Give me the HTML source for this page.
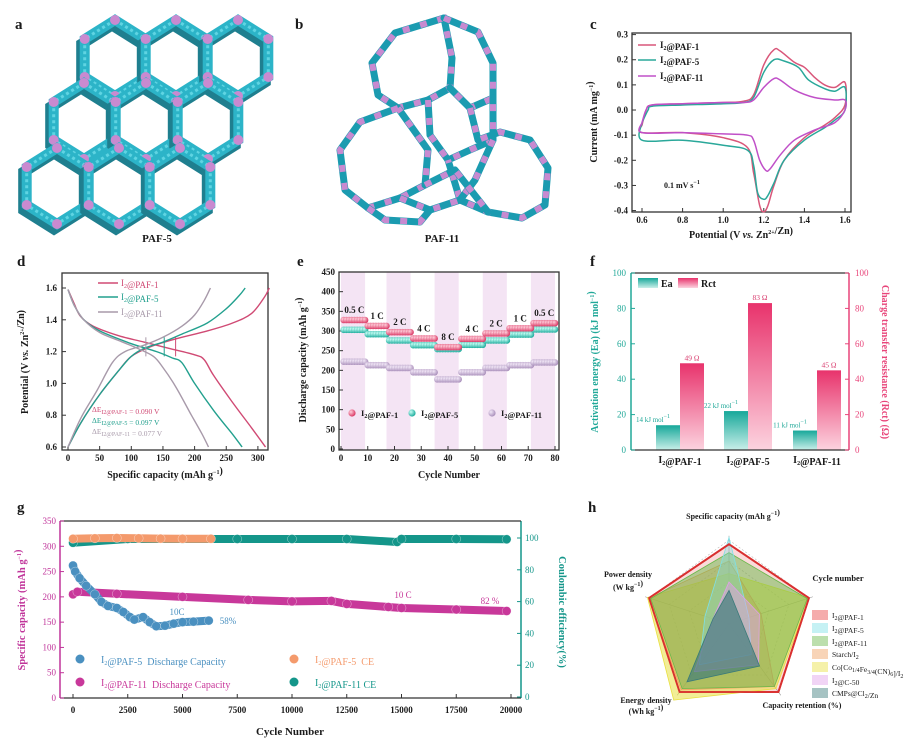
<!DOCTYPE html>
<html><head><meta charset="utf-8">
<style>
html,body{margin:0;padding:0;background:#fff;}
svg{display:block;font-family:"Liberation Serif",serif;}
</style></head>
<body>
<svg id="fig" width="915" height="744" viewBox="0 0 915 744" xmlns="http://www.w3.org/2000/svg">
<defs>
<linearGradient id="gEa" x1="0" y1="0" x2="0" y2="1"><stop offset="0" stop-color="#17a89a"/><stop offset="1" stop-color="#c9efe9"/></linearGradient>
<linearGradient id="gRct" x1="0" y1="0" x2="0" y2="1"><stop offset="0" stop-color="#e8336c"/><stop offset="1" stop-color="#fcd3df"/></linearGradient>
<radialGradient id="m1" cx="0.35" cy="0.35" r="0.7"><stop offset="0" stop-color="#ffd0dc"/><stop offset="1" stop-color="#d8305e"/></radialGradient>
<radialGradient id="m5" cx="0.35" cy="0.35" r="0.7"><stop offset="0" stop-color="#c9fff6"/><stop offset="1" stop-color="#14a898"/></radialGradient>
<radialGradient id="m11" cx="0.35" cy="0.35" r="0.7"><stop offset="0" stop-color="#f2e8f7"/><stop offset="1" stop-color="#a68bb8"/></radialGradient>
</defs>
</svg>
<script>
// ---------------- DATA ----------------
const cv1V=[0.6,0.62,0.65,0.8,1.0,1.1,1.15,1.2,1.25,1.28,1.35,1.4,1.45,1.5,1.55,1.6,1.6,1.55,1.5,1.4,1.3,1.25,1.22,1.2,1.18,1.15,1.12,1.0,0.8,0.6,0.6];
const cv1I=[-0.06,0.0,0.02,0.025,0.03,0.035,0.06,0.18,0.24,0.235,0.19,0.17,0.13,0.1,0.09,0.11,0.02,-0.03,-0.06,-0.11,-0.2,-0.3,-0.38,-0.405,-0.38,-0.25,-0.15,-0.11,-0.09,-0.09,-0.06];
const cv5V=[0.6,0.63,0.65,0.8,1.0,1.1,1.15,1.2,1.25,1.3,1.37,1.42,1.5,1.55,1.6,1.6,1.55,1.5,1.4,1.3,1.25,1.22,1.2,1.17,1.15,1.12,1.0,0.8,0.6,0.6];
const cv5I=[-0.05,0.0,0.015,0.02,0.025,0.03,0.05,0.15,0.2,0.195,0.17,0.12,0.085,0.075,0.09,0.0,-0.04,-0.07,-0.12,-0.2,-0.29,-0.34,-0.355,-0.33,-0.22,-0.16,-0.14,-0.12,-0.12,-0.05];
const cv11V=[0.6,0.62,0.65,0.8,1.0,1.1,1.15,1.2,1.25,1.28,1.35,1.45,1.55,1.6,1.6,1.55,1.45,1.35,1.28,1.23,1.21,1.18,1.15,1.12,1.0,0.8,0.6,0.6];
const cv11I=[-0.05,0.0,0.02,0.025,0.03,0.03,0.04,0.09,0.125,0.12,0.08,0.05,0.04,0.04,0.0,-0.05,-0.08,-0.12,-0.18,-0.235,-0.24,-0.2,-0.12,-0.1,-0.095,-0.09,-0.09,-0.05];
const cvXTicks=[0.6,0.8,1.0,1.2,1.4,1.6];
const cvYTicks=[0.3,0.2,0.1,0.0,-0.1,-0.2,-0.3,-0.4];
const d1DisC=[0,10,20,40,80,120,160,200,215,230,260,290,312];
const d1DisV=[1.59,1.5,1.42,1.36,1.3,1.26,1.22,1.18,1.15,1.05,0.88,0.72,0.6];
const d1ChC=[0,20,50,80,100,130,170,220,260,290,310,318];
const d1ChV=[0.6,0.75,0.93,1.08,1.17,1.23,1.28,1.33,1.38,1.44,1.54,1.6];
const d5DisC=[0,10,25,50,100,140,165,180,200,230,260,275];
const d5DisV=[1.59,1.49,1.4,1.33,1.25,1.2,1.16,1.13,1.0,0.83,0.68,0.6];
const d5ChC=[0,20,50,80,100,120,150,180,220,250,270,280];
const d5ChV=[0.6,0.75,0.93,1.08,1.17,1.22,1.26,1.31,1.38,1.47,1.55,1.6];
const d11DisC=[0,10,25,50,80,110,135,150,170,195,212,222];
const d11DisV=[1.59,1.49,1.4,1.32,1.27,1.22,1.17,1.1,0.98,0.8,0.68,0.6];
const d11ChC=[0,20,45,70,90,120,150,180,200,215,225];
const d11ChV=[0.6,0.78,0.95,1.13,1.2,1.24,1.29,1.36,1.43,1.52,1.6];
const dXTicks=[0,50,100,150,200,250,300];
const dYTicks=[0.6,0.8,1.0,1.2,1.4,1.6];
const eSegStart=[1,10,18,27,36,45,54,63,72];
const eSegEnd=[9,17,26,35,44,53,62,71,80];
const eRates=["0.5 C","1 C","2 C","4 C","8 C","4 C","2 C","1 C","0.5 C"];
const ePAF1=[328,313,297,281,259,280,294,307,320];
const ePAF5=[303,292,276,264,254,265,276,291,304];
const ePAF11=[222,213,206,195,177,195,206,213,220];
const eXTicks=[0,10,20,30,40,50,60,70,80];
const eYTicks=[0,50,100,150,200,250,300,350,400,450];
const fCats=["PAF-1","PAF-5","PAF-11"];
const fEa=[14,22,11];
const fRct=[49,83,45];
const fTicks=[0,20,40,60,80,100];
const g5Cyc=[0,100,300,600,1000,1300,1600,2000,2300,2600,2800,3200,3500,3800,4200,4600,5000,5500,6200];
const g5Cap=[262,250,237,222,205,190,182,178,170,160,155,160,150,142,143,147,150,151,153];
const g11Cyc=[0,200,2000,5000,8000,10000,11800,12500,14400,15000,17500,19800];
const g11Cap=[205,210,206,200,194,191,192,186,180,178,175,172];
const g5CECyc=[0,1000,2000,3000,4000,5000,6300];
const g5CE=[99.5,99.8,100,99.8,99.6,99.5,99.5];
const g11CECyc=[0,2500,5000,7500,10000,12500,14800,15000,17500,19800];
const g11CE=[97,99.4,99.4,99.4,99.4,99.4,97.5,99.4,99.4,99.2];
const gXTicks=[0,2500,5000,7500,10000,12500,15000,17500,20000];
const gYTicks=[0,50,100,150,200,250,300,350];
const gRTicks=[0,20,40,60,80,100];
const hAxes=["Specific capacity","Cycle number","Capacity retention","Energy density","Power density"];
const hNames=["I2@PAF-1","I2@PAF-5","I2@PAF-11","Starch/I2","Co[Co1/4Fe3/4(CN)6]/I2","I2@C-50","CMPs@Cl2/Zn"];
const hPAF1=[0.95,1.0,1.0,1.0,1.0];
const hPAF5=[1.03,0.25,0.45,0.6,0.3];
const hPAF11=[0.85,0.98,0.92,0.95,0.98];
const hStarch=[0.75,0.4,0.92,0.97,1.0];
const hCo=[0.6,1.0,0.95,1.12,1.02];
const hC50=[0.5,0.38,0.6,0.7,0.2];
const hCMP=[0.4,0.15,0.62,0.85,0.2];
const hColors=["#e84848","#7fe0e6","#6ab84a","#f0a060","#e8e040","#e0a0e8","#3a7a7a"];
const hOpacity=[0.2,0.35,0.5,0.4,0.55,0.5,0.65];

// ---------------- HELPERS ----------------
const NS='http://www.w3.org/2000/svg';
const svg=document.getElementById('fig');
function mk(tag,attrs,parent,name){
  const e=document.createElementNS(NS,tag);
  for(const k in attrs) e.setAttribute(k,attrs[k]);
  
  
  (parent||svg).appendChild(e);
  return e;
}
function grp(name){return mk('g',{},svg,name);}
function txt(x,y,html,o,parent,name){
  o=o||{};
  const a={x:x,y:y,'font-size':o.size||9,'text-anchor':o.anchor||'middle',fill:o.fill||'#1a1a1a','font-weight':o.weight||'bold'};
  if(o.rot) a.transform='rotate('+o.rot+' '+x+' '+y+')';
  const t=mk('text',a,parent,name);
  t.innerHTML=html;
  return t;
}
const sub=s=>'<tspan font-size="6" dy="2">'+s+'</tspan><tspan dy="-2"></tspan>';
const sup=s=>'<tspan font-size="6" dy="-4">'+s+'</tspan><tspan dy="4"></tspan>';
function smooth(p){
  let d='M'+p[0][0].toFixed(1)+','+p[0][1].toFixed(1);
  for(let i=0;i<p.length-1;i++){
    const p0=p[i-1]||p[i],p1=p[i],p2=p[i+1],p3=p[i+2]||p2;
    const c1=[p1[0]+(p2[0]-p0[0])/6,p1[1]+(p2[1]-p0[1])/6];
    const c2=[p2[0]-(p3[0]-p1[0])/6,p2[1]-(p3[1]-p1[1])/6];
    d+=' C'+c1[0].toFixed(1)+','+c1[1].toFixed(1)+' '+c2[0].toFixed(1)+','+c2[1].toFixed(1)+' '+p2[0].toFixed(1)+','+p2[1].toFixed(1);
  }
  return d;
}
function box(x1,y1,x2,y2,g,color,name){mk('rect',{x:x1,y:y1,width:x2-x1,height:y2-y1,fill:'none',stroke:color||'#333','stroke-width':1.3},g,name);}

// ---------------- PANEL LABELS ----------------
const L=grp('panel-letters');
[['a',15,29],['b',295,29],['c',590,29],['d',17,266],['e',297,266],['f',590,266],['g',17,512],['h',588,512]].forEach(p=>{
  txt(p[1],p[2],p[0],{size:15,anchor:'start'},L,'panel-letter-'+p[0]);
});

// ---------------- PANEL A ----------------
const A=grp('panel-a-paf5-structure');
const hexCenters=[[115,58],[176,58],[238,58],[84,121],[146,121],[208,121],[57,186],[119,186],[180,186]];
hexCenters.forEach((c,i)=>{
  const pts=[];
  for(let k=0;k<6;k++){const an=Math.PI/180*(60*k-90);pts.push((c[0]+35*Math.cos(an)).toFixed(1)+','+(c[1]+38*Math.sin(an)).toFixed(1));}
  mk('polygon',{points:pts.join(' '),fill:'none',stroke:'#1f7f8f','stroke-width':11,transform:'translate(-3,5)'},A,'hex-shadow');
  mk('polygon',{points:pts.join(' '),fill:'none',stroke:'#2cb4c8','stroke-width':10},A,'hex-ring');
  mk('polygon',{points:pts.join(' '),fill:'none',stroke:'#5fd4e2','stroke-width':3,'stroke-dasharray':'3 3'},A,'hex-ring-detail');
  pts.forEach(p=>{const q=p.split(',');mk('circle',{cx:q[0],cy:q[1],r:5,fill:'#c98ad0'},A,'hex-node');});
});
txt(157,242,'PAF-5',{size:11},A,'paf5-caption');

// ---------------- PANEL B ----------------
const B=grp('panel-b-paf11-structure');
const bPaths=[
 'M444,18 L395,33 L372,63 L378,95 L398,108 L428,100 L450,88 L452,58 Z',
 'M444,18 L478,32 L493,63 L493,98 L470,108 L450,88',
 'M398,108 L360,122 L340,150 L345,190 L368,208 L400,198 L425,185 L428,150 L398,108',
 'M428,100 L430,135 L448,160 L470,150 L493,140 L493,98',
 'M470,108 L478,140 L500,132 L530,140 L548,168 L545,205 L522,218 L488,212 L460,200 L448,160',
 'M400,198 L430,210 L460,200 L475,180 L493,140',
 'M368,208 L385,220 L420,222 L430,210',
 'M425,185 L455,170 L488,212'
];
bPaths.forEach(d=>{
  mk('path',{d:d,fill:'none',stroke:'#1b9bb0','stroke-width':7,'stroke-linejoin':'round','stroke-linecap':'round'},B,'framework-strut');
  mk('path',{d:d,fill:'none',stroke:'#c88ad0','stroke-width':6,'stroke-dasharray':'7 11'},B,'framework-linker');
});
txt(442,242,'PAF-11',{size:11},B,'paf11-caption');

// ---------------- PANEL C ----------------
const C=grp('panel-c-cv-chart');
const cx=v=>642+(v-0.6)*203, cy=i=>34.6+(0.3-i)*251.4;
box(632,33,851,212,C,'#333','cv-plot-frame');
cvXTicks.forEach(t=>{mk('line',{x1:cx(t),y1:212,x2:cx(t),y2:208,stroke:'#333'},C,'x-tick');txt(cx(t),223,t.toFixed(1),{size:9},C,'x-tick-label');});
cvYTicks.forEach(t=>{mk('line',{x1:632,y1:cy(t),x2:636,y2:cy(t),stroke:'#333'},C,'y-tick');txt(628,cy(t)+3,t.toFixed(1),{size:9,anchor:'end'},C,'y-tick-label');});
txt(741,238,'Potential (V <tspan font-style="italic">vs.</tspan> Zn'+sup('2+')+'/Zn)',{size:10},C,'x-axis-title');
txt(597,122,'Current (mA mg'+sup('−1')+')',{size:10,rot:-90},C,'y-axis-title');
[[cv1V,cv1I,'#d9577a','cv-paf1'],[cv5V,cv5I,'#2aa89a','cv-paf5'],[cv11V,cv11I,'#c050c8','cv-paf11']].forEach(s=>{
  const p=s[0].map((v,i)=>[cx(v),cy(s[1][i])]);
  mk('path',{d:smooth(p),fill:'none',stroke:s[2],'stroke-width':1.5},C,s[3]+'-curve');
});
[['1','#d9577a',45],['5','#2aa89a',60],['11','#c050c8',76]].forEach(l=>{
  mk('line',{x1:638,y1:l[2],x2:656,y2:l[2],stroke:l[1],'stroke-width':1.5},C,'legend-line');
  txt(660,l[2]+3,'I'+sub('2')+'@PAF-'+l[0],{size:9,anchor:'start'},C,'legend-entry-paf'+l[0]);
});
txt(664,188,'0.1 mV s'+sup('−1'),{size:8,anchor:'start'},C,'scan-rate-note');

// ---------------- PANEL D ----------------
const D=grp('panel-d-gcd-chart');
const dx=c=>68+c*0.633, dy=v=>288+(1.6-v)*159;
box(62,273,268,450,D,'#333','gcd-plot-frame');
dXTicks.forEach(t=>{mk('line',{x1:dx(t),y1:450,x2:dx(t),y2:446,stroke:'#333'},D,'x-tick');txt(dx(t),461,t,{size:9},D,'x-tick-label');});
dYTicks.forEach(t=>{mk('line',{x1:62,y1:dy(t),x2:66,y2:dy(t),stroke:'#333'},D,'y-tick');txt(57,dy(t)+3,t.toFixed(1),{size:9,anchor:'end'},D,'y-tick-label');});
txt(165,478,'Specific capacity (mAh g'+sup('−1')+')',{size:10},D,'x-axis-title');
txt(28,362,'Potential (V <tspan font-style="italic">vs.</tspan> Zn'+sup('2+')+'/Zn)',{size:10,rot:-90},D,'y-axis-title');
[[d1DisC,d1DisV,d1ChC,d1ChV,'#d04a74','paf1'],[d5DisC,d5DisV,d5ChC,d5ChV,'#22a08e','paf5'],[d11DisC,d11DisV,d11ChC,d11ChV,'#a89aaa','paf11']].forEach(s=>{
  mk('path',{d:smooth(s[0].map((c,i)=>[dx(c),dy(s[1][i])])),fill:'none',stroke:s[4],'stroke-width':1.4},D,'discharge-curve-'+s[5]);
  mk('path',{d:smooth(s[2].map((c,i)=>[dx(c),dy(s[3][i])])),fill:'none',stroke:s[4],'stroke-width':1.4},D,'charge-curve-'+s[5]);
});
[[123,'#a89aaa'],[152,'#22a08e'],[170,'#d04a74']].forEach(a=>{
  mk('line',{x1:dx(a[0]),y1:dy(1.17),x2:dx(a[0]),y2:dy(1.29),stroke:a[1],'stroke-width':1},D,'overpotential-marker');
});
[['1','#d04a74',283],['5','#22a08e',297],['11','#a89aaa',312]].forEach(l=>{
  mk('line',{x1:98,y1:l[2],x2:118,y2:l[2],stroke:l[1],'stroke-width':1.5},D,'legend-line');
  txt(121,l[2]+3,'I'+sub('2')+'@PAF-'+l[0],{size:9,anchor:'start',fill:l[1],weight:'normal'},D,'legend-entry-paf'+l[0]);
});
[['1','0.090','#d04a74',412],['5','0.097','#22a08e',423],['11','0.077','#a89aaa',434]].forEach(l=>{
  txt(92,l[3],'ΔE'+sub('I2@PAF-'+l[0])+' = '+l[1]+' V',{size:7.5,anchor:'start',fill:l[2],weight:'normal'},D,'delta-e-paf'+l[0]);
});

// ---------------- PANEL E ----------------
const E=grp('panel-e-rate-chart');
const ex=n=>341+n*2.675, ey=q=>449-q*0.3933;
eSegStart.forEach((s,i)=>{ if(i%2===0) mk('rect',{x:ex(s-1),y:272,width:ex(eSegEnd[i])-ex(s-1),height:178,fill:'#f4e4f4'},E,'rate-band'); });
box(339,272,559,450,E,'#333','rate-plot-frame');
eXTicks.forEach(t=>{mk('line',{x1:ex(t),y1:450,x2:ex(t),y2:446,stroke:'#333'},E,'x-tick');txt(ex(t),461,t,{size:9},E,'x-tick-label');});
eYTicks.forEach(t=>{mk('line',{x1:339,y1:ey(t),x2:343,y2:ey(t),stroke:'#333'},E,'y-tick');txt(335,ey(t)+3,t,{size:9,anchor:'end'},E,'y-tick-label');});
txt(449,478,'Cycle Number',{size:10},E,'x-axis-title');
txt(306,360,'Discharge capacity (mAh g'+sup('−1')+')',{size:10,rot:-90},E,'y-axis-title');
[[ePAF11,'url(#m11)','paf11'],[ePAF5,'url(#m5)','paf5'],[ePAF1,'url(#m1)','paf1']].forEach(s=>{
  eSegStart.forEach((st,i)=>{
    for(let n=st;n<=eSegEnd[i];n++){
      mk('circle',{cx:ex(n),cy:ey(s[0][i]),r:3.3,fill:s[1]},E,'point-'+s[2]);
    }
  });
});
eSegStart.forEach((st,i)=>{
  txt(ex((st+eSegEnd[i])/2),ey(ePAF1[i])-7,eRates[i],{size:9},E,'rate-label');
});
[['1','url(#m1)',352],['5','url(#m5)',412],['11','url(#m11)',492]].forEach(l=>{
  mk('circle',{cx:l[2],cy:413,r:3.6,fill:l[1]},E,'legend-marker');
  txt(l[2]+9,416,'I'+sub('2')+'@PAF-'+l[0],{size:8.5,anchor:'start'},E,'legend-entry-paf'+l[0]);
});

// ---------------- PANEL F ----------------
const F=grp('panel-f-bar-chart');
const fx=[680,748,817], fy=v=>450-v*1.77;
fCats.forEach((c,i)=>{
  mk('rect',{x:fx[i]-24,y:fy(fEa[i]),width:24,height:450-fy(fEa[i]),fill:'url(#gEa)'},F,'bar-ea-'+c.toLowerCase());
  mk('rect',{x:fx[i],y:fy(fRct[i]),width:24,height:450-fy(fRct[i]),fill:'url(#gRct)'},F,'bar-rct-'+c.toLowerCase());
  txt(fx[i]-27,fy(fEa[i])-3,fEa[i]+' kJ mol'+sup('−1'),{size:7,fill:'#20a898',weight:'normal'},F,'ea-value-label');
  txt(fx[i]+12,fy(fRct[i])-3,fRct[i]+' Ω',{size:7.5,fill:'#d83a6c',weight:'normal'},F,'rct-value-label');
  txt(fx[i],463,'I'+sub('2')+'@'+c,{size:10},F,'category-label');
});
mk('line',{x1:631,y1:273,x2:631,y2:450,stroke:'#20a898','stroke-width':1.5},F,'left-axis');
mk('line',{x1:849,y1:273,x2:849,y2:450,stroke:'#e8457a','stroke-width':1.5},F,'right-axis');
mk('line',{x1:631,y1:273,x2:849,y2:273,stroke:'#333','stroke-width':1.3},F,'top-frame');
mk('line',{x1:631,y1:450,x2:849,y2:450,stroke:'#333','stroke-width':1.3},F,'bottom-frame');
fTicks.forEach(t=>{
  mk('line',{x1:631,y1:fy(t),x2:635,y2:fy(t),stroke:'#20a898'},F,'left-tick');
  txt(626,fy(t)+3,t,{size:9,anchor:'end',fill:'#20a898',weight:'normal'},F,'left-tick-label');
  mk('line',{x1:845,y1:fy(t),x2:849,y2:fy(t),stroke:'#e8457a'},F,'right-tick');
  txt(855,fy(t)+3,t,{size:9,anchor:'start',fill:'#e8457a',weight:'normal'},F,'right-tick-label');
});
txt(598,362,'Activation energy (Ea) (kJ mol'+sup('−1')+')',{size:10,rot:-90,fill:'#20a898'},F,'left-axis-title');
txt(882,362,'Charge transfer resistance (Rct) (Ω)',{size:10,rot:90,fill:'#e8457a'},F,'right-axis-title');
mk('rect',{x:638,y:278,width:20,height:10,fill:'url(#gEa)'},F,'legend-swatch-ea');
txt(661,287,'Ea',{size:10,anchor:'start'},F,'legend-entry-ea');
mk('rect',{x:678,y:278,width:20,height:10,fill:'url(#gRct)'},F,'legend-swatch-rct');
txt(701,287,'Rct',{size:10,anchor:'start'},F,'legend-entry-rct');

// ---------------- PANEL G ----------------
const G=grp('panel-g-cycling-chart');
const gx=c=>73+c*0.0219, gy=q=>698-q*0.5057, gr=p=>697-p*1.59;
mk('line',{x1:60,y1:521,x2:60,y2:698,stroke:'#c0349a','stroke-width':1.5},G,'left-axis');
mk('line',{x1:521,y1:521,x2:521,y2:698,stroke:'#14968a','stroke-width':1.5},G,'right-axis');
mk('line',{x1:60,y1:521,x2:521,y2:521,stroke:'#333','stroke-width':1.3},G,'top-frame');
mk('line',{x1:60,y1:698,x2:521,y2:698,stroke:'#333','stroke-width':1.3},G,'bottom-frame');
gXTicks.forEach(t=>{mk('line',{x1:gx(t),y1:698,x2:gx(t),y2:694,stroke:'#333'},G,'x-tick');txt(gx(t),713,t,{size:9},G,'x-tick-label');});
gYTicks.forEach(t=>{mk('line',{x1:60,y1:gy(t),x2:64,y2:gy(t),stroke:'#c0349a'},G,'left-tick');txt(56,gy(t)+3,t,{size:9,anchor:'end',fill:'#c0349a',weight:'normal'},G,'left-tick-label');});
gRTicks.forEach(t=>{mk('line',{x1:517,y1:gr(t),x2:521,y2:gr(t),stroke:'#14968a'},G,'right-tick');txt(525,gr(t)+3,t,{size:9,anchor:'start',fill:'#14968a',weight:'normal'},G,'right-tick-label');});
txt(290,735,'Cycle Number',{size:11},G,'x-axis-title');
txt(25,610,'Specific capacity (mAh g'+sup('−1')+')',{size:10.5,rot:-90,fill:'#c0349a'},G,'left-axis-title');
txt(559,612,'Coulombic efficiency(%)',{size:10.5,rot:90,fill:'#14968a'},G,'right-axis-title');
function series(cyc,val,fy2,color,w,name){
  const p=cyc.map((c,i)=>[gx(c),fy2(val[i])]);
  mk('path',{d:'M'+p.map(q=>q[0].toFixed(1)+','+q[1].toFixed(1)).join(' L'),fill:'none',stroke:color,'stroke-width':w,'stroke-linecap':'round','stroke-linejoin':'round'},G,name+'-band');
  p.forEach(q=>mk('circle',{cx:q[0],cy:q[1],r:w/2+0.5,fill:color,stroke:'#fff','stroke-width':0.3},G,name+'-point'));
}
series(g11CECyc,g11CE,gr,'#14968a',8,'paf11-ce');
series(g11Cyc,g11Cap,gy,'#c8389a',8,'paf11-discharge');
series(g5Cyc,g5Cap,gy,'#4a90c0',8,'paf5-discharge');
series(g5CECyc,g5CE,gr,'#f49a6c',8,'paf5-ce');
txt(177,615,'10C',{size:9,fill:'#4a90c0',weight:'normal'},G,'rate-label-paf5');
txt(228,624,'58%',{size:9,fill:'#4a90c0',weight:'normal'},G,'retention-label-paf5');
txt(403,598,'10 C',{size:9,fill:'#c8389a',weight:'normal'},G,'rate-label-paf11');
txt(490,604,'82 %',{size:9,fill:'#c8389a',weight:'normal'},G,'retention-label-paf11');
[[80,659,'#4a90c0','I'+sub('2')+'@PAF-5&#160;&#160;Discharge Capacity','legend-paf5-discharge'],
 [80,682,'#c8389a','I'+sub('2')+'@PAF-11&#160;&#160;Discharge Capacity','legend-paf11-discharge'],
 [294,659,'#f49a6c','I'+sub('2')+'@PAF-5&#160;&#160;CE','legend-paf5-ce'],
 [294,682,'#14968a','I'+sub('2')+'@PAF-11 CE','legend-paf11-ce']].forEach(l=>{
  mk('circle',{cx:l[0],cy:l[1],r:4.5,fill:l[2]},G,'legend-marker');
  txt(l[0]+21,l[1]+4,l[3],{size:10,anchor:'start',fill:l[2],weight:'normal'},G,l[4]);
});

// ---------------- PANEL H ----------------
const H=grp('panel-h-radar-chart');
const hcx=729,hcy=624,hR=84;
const hp=(k,f)=>{const an=Math.PI/180*(-90+72*k);return [hcx+hR*f*Math.cos(an),hcy+hR*f*Math.sin(an)];};
[0.25,0.5,0.75,1].forEach(f=>{
  const pts=[0,1,2,3,4].map(k=>hp(k,f).map(v=>v.toFixed(1)).join(','));
  mk('polygon',{points:pts.join(' '),fill:'none',stroke:'#bbb','stroke-width':0.6,'stroke-dasharray':'2 2'},H,'radar-grid-ring');
});
[0,1,2,3,4].forEach(k=>{const p=hp(k,1.05);mk('line',{x1:hcx,y1:hcy,x2:p[0],y2:p[1],stroke:'#999','stroke-width':0.6},H,'radar-axis');});
const hSeries=[hPAF1,hCo,hStarch,hPAF11,hPAF5,hC50,hCMP];
const hOrder=[0,4,3,2,1,5,6];
hSeries.forEach((s,idx)=>{
  const order=hOrder[idx];
  const pts=s.map((f,k)=>hp(k,f).map(v=>v.toFixed(1)).join(','));
  mk('polygon',{points:pts.join(' '),fill:hColors[order],'fill-opacity':hOpacity[order],stroke:hColors[order],'stroke-width':order===0?2:0.8},H,'radar-series-'+order);
});
{ const pts=hPAF1.map((f,k)=>hp(k,f).map(v=>v.toFixed(1)).join(','));
  mk('polygon',{points:pts.join(' '),fill:'none',stroke:'#d83030','stroke-width':1.8},H,'radar-series-paf1-outline'); }
txt(733,519,'Specific capacity (mAh g'+sup('−1')+')',{size:8},H,'axis-label-capacity');
txt(838,581,'Cycle number',{size:8.5},H,'axis-label-cycle');
txt(802,708,'Capacity retention (%)',{size:8},H,'axis-label-retention');
txt(646,703,'Energy density',{size:8},H,'axis-label-energy');
txt(646,714,'(Wh kg'+sup('−1')+')',{size:8},H,'axis-label-energy-unit');
txt(628,577,'Power density',{size:8},H,'axis-label-power');
txt(628,590,'(W kg'+sup('−1')+')',{size:8},H,'axis-label-power-unit');
const hLabels=['I'+sub('2')+'@PAF-1','I'+sub('2')+'@PAF-5','I'+sub('2')+'@PAF-11','Starch/I'+sub('2'),'Co[Co'+sub('1/4')+'Fe'+sub('3/4')+'(CN)'+sub('6')+']/I'+sub('2'),'I'+sub('2')+'@C-50','CMPs@Cl'+sub('2')+'/Zn'];
hNames.forEach((n,i)=>{
  const y=610+i*13;
  mk('rect',{x:812,y:y,width:16,height:10,fill:hColors[i],'fill-opacity':0.45},H,'legend-swatch');
  txt(832,y+8,hLabels[i],{size:7.5,anchor:'start',weight:'normal'},H,'legend-entry-'+i);
});
</script>
</body></html>
